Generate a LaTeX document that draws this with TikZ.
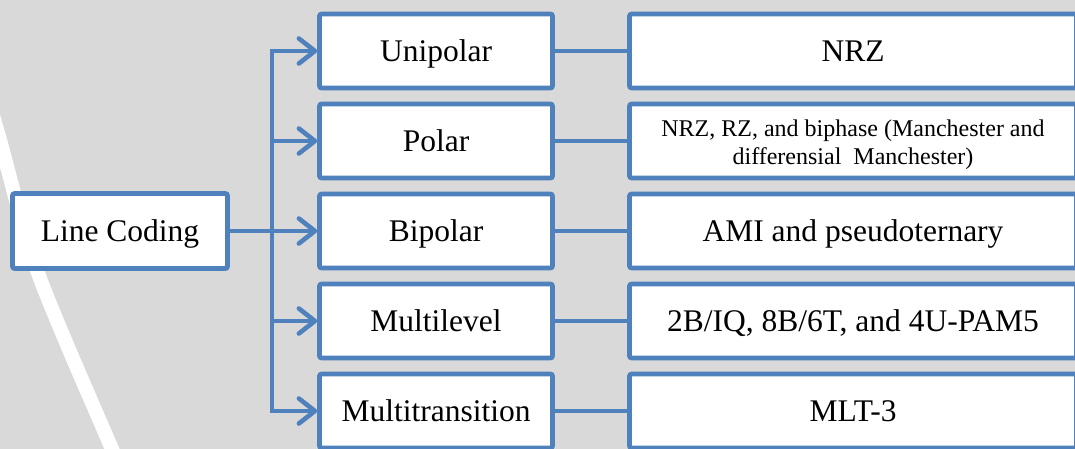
\documentclass[tikz,border=0pt]{standalone}
\usepackage{fontspec}
\setmainfont{Liberation Serif}
\usetikzlibrary{arrows.meta}
\definecolor{bxblue}{HTML}{4F81BD}
\definecolor{bggrey}{HTML}{D9D9D9}
\begin{document}
\begin{tikzpicture}[x=1pt,y=-1pt,
  box/.style={draw=bxblue, line width=4.6pt, fill=white, rounded corners=2pt,
    inner sep=0pt, align=center, text height=21pt, text depth=0pt,
    font=\fontsize{31.5}{37}\selectfont},
  midbox/.style={box, minimum width=233pt, minimum height=74pt},
  resbox/.style={box, minimum width=447pt, minimum height=74pt},
  conn/.style={draw=bxblue, line width=4.6pt},
  arr/.style={conn, -{Straight Barb[length=16pt,width=25pt,round]}}]
\clip (0,0) rectangle (1075,449);
\useasboundingbox (0,0) rectangle (1075,449);
\fill[bggrey] (0,0) rectangle (1075,449);
\draw[white, line width=14pt] plot[smooth] coordinates {(-8,112) (0,140) (38,273) (112,449) (122,470)};

\node[box, minimum width=215pt, minimum height=75pt] (lc) at (120,231) {Line Coding};

\node[midbox] (uni) at (436,51)  {Unipolar};
\node[midbox] (pol) at (436,141) {Polar};
\node[midbox] (bip) at (436,231) {Bipolar};
\node[midbox] (mul) at (436,321) {Multilevel};
\node[midbox] (mtr) at (436,411) {Multitransition};

\node[resbox] (nrz) at (853,51)  {NRZ};
\node[resbox, text height=47pt, text depth=0pt, font=\fontsize{24}{27.7}\selectfont] (bph) at (853,141)
  {NRZ, RZ, and biphase (Manchester and\\differensial\hspace{0.25em} Manchester)};
\node[resbox] (ami) at (853,231) {AMI and pseudoternary};
\node[resbox] (pam) at (853,321) {2B/IQ, 8B/6T, and 4U-PAM5};
\node[resbox] (mlt) at (853,411) {MLT-3};

\coordinate (bus) at (272,231);
\draw[conn] (lc.east) -- (bus);
\draw[arr] (bus) |- (uni.west);
\draw[arr] (bus) |- (pol.west);
\draw[arr] (bus) -- (bip.west);
\draw[arr] (bus) |- (mul.west);
\draw[arr] (bus) |- (mtr.west);

\draw[conn] (uni.east) -- (nrz.west);
\draw[conn] (pol.east) -- (bph.west);
\draw[conn] (bip.east) -- (ami.west);
\draw[conn] (mul.east) -- (pam.west);
\draw[conn] (mtr.east) -- (mlt.west);
\end{tikzpicture}
\end{document}
